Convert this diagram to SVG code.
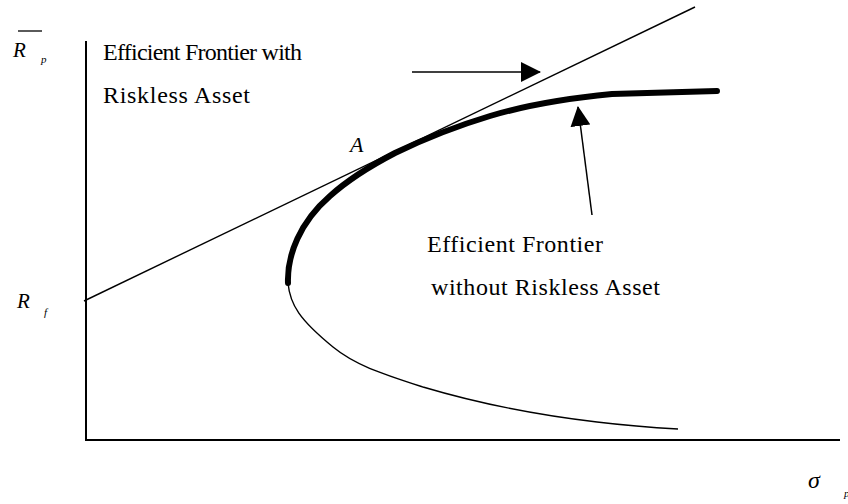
<svg xmlns="http://www.w3.org/2000/svg" width="848" height="504" viewBox="0 0 848 504">
  <style>
    text { font-family: "Liberation Serif", "Times New Roman", Times, Tinos, "Nimbus Roman", "Nimbus Roman No9 L", FreeSerif, "Noto Serif", "DejaVu Serif", serif; fill: #000; }
    .lbl { font-size: 24px; }
    .sym { font-style: italic; }
    .axis { stroke: #000; stroke-width: 2; fill: none; }
    .thin { stroke: #000; stroke-width: 1.4; fill: none; }
    .thick { stroke: #000; stroke-width: 6; fill: none; stroke-linecap: round; stroke-linejoin: round; }
    .ptr { stroke: #000; stroke-width: 1.5; fill: none; }
  </style>
  <defs>
    <marker id="head" viewBox="0 0 20 20" markerWidth="20" markerHeight="20" markerUnits="userSpaceOnUse" refX="19" refY="10" orient="auto">
      <path d="M0,0 L20,10 L0,20 z" fill="#000"/>
    </marker>
  </defs>
  <rect width="848" height="504" fill="#fff"/>

  <!-- axes -->
  <g id="axes">
    <path class="axis" d="M86,41 L86,440 L840,440"/>
  </g>

  <!-- axis symbols -->
  <g id="label-rp">
    <line x1="18" y1="31" x2="42" y2="31" stroke="#000" stroke-width="1.3"/>
    <text class="sym" x="13" y="57" font-size="21">R</text>
    <text class="sym" x="41" y="63" font-size="11">p</text>
  </g>
  <g id="label-rf">
    <text class="sym" x="17" y="308" font-size="21">R</text>
    <text class="sym" x="44" y="316" font-size="11">f</text>
  </g>
  <g id="label-sigma">
    <text class="sym" x="808" y="488" font-size="24">σ</text>
    <text class="sym" x="844" y="497" font-size="11">p</text>
  </g>

  <!-- capital market line (frontier with riskless asset) -->
  <g id="cml">
    <line class="thin" x1="84" y1="301" x2="695" y2="7"/>
  </g>

  <!-- risky-asset frontier: efficient (upper) and inefficient (lower) parts -->
  <g id="frontier-lower">
    <path class="thin" d="M288,283 C290,305 300,320 333,347 C355,365 380,373 423,387 C460,398 520,413 597,422 C630,426 660,428 678,429"/>
  </g>
  <g id="frontier-efficient">
    <path class="thick" d="M288,283 C287,255 300,222 330,196 C350,178 370,166 395,153 C420,141 450,128 490,116 C520,107 560,99 612,94 L717,91"/>
  </g>

  <g id="point-a">
    <text class="sym" x="350" y="152" font-size="22">A</text>
  </g>

  <!-- text labels -->
  <g id="label-with">
    <text class="lbl" x="103" y="60" textLength="199" lengthAdjust="spacing">Efficient Frontier with</text>
    <text class="lbl" x="103" y="103" textLength="147" lengthAdjust="spacing">Riskless Asset</text>
  </g>
  <g id="label-without">
    <text class="lbl" x="427" y="252" textLength="176" lengthAdjust="spacing">Efficient Frontier</text>
    <text class="lbl" x="431" y="295" textLength="229" lengthAdjust="spacing">without Riskless Asset</text>
  </g>

  <!-- pointer arrows -->
  <g id="connectors">
    <line class="ptr" x1="412" y1="72" x2="540" y2="72" marker-end="url(#head)"/>
    <line class="ptr" x1="592" y1="215" x2="578" y2="107" marker-end="url(#head)"/>
  </g>
</svg>
